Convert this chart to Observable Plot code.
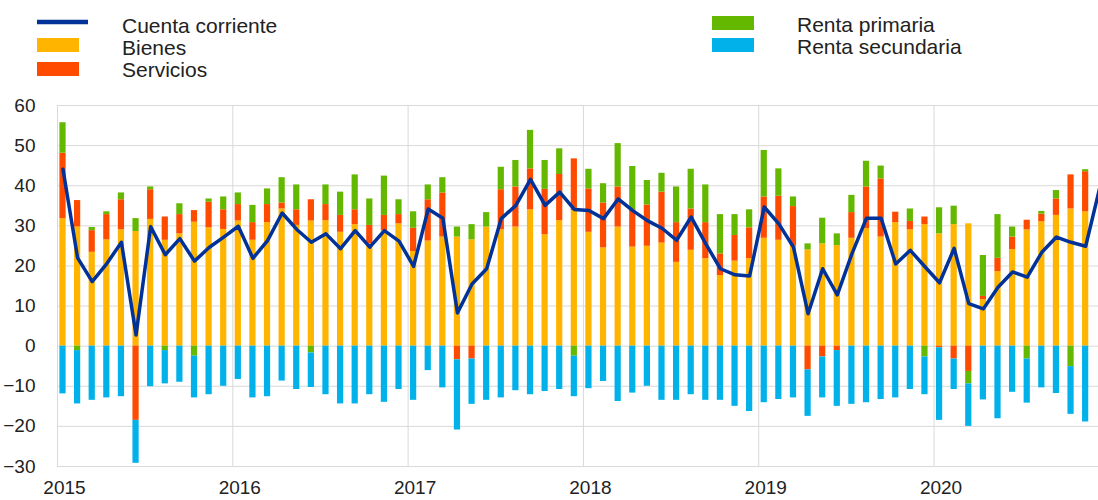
<!DOCTYPE html>
<html>
<head>
<meta charset="utf-8">
<script src="https://cdn.jsdelivr.net/npm/d3@7"></script>
<script src="https://cdn.jsdelivr.net/npm/@observablehq/plot@0.6"></script>
<style>
html, body { margin: 0; padding: 0; background: #fff; overflow: hidden; }
#chart { width: 1098px; height: 500px; font-family: "Liberation Sans", Arial, sans-serif; }
#chart svg { display: block; }
</style>
</head>
<body>
<div id="chart"></div>
<script>
// ---- Data (monthly, Jan 2015 onward) ----
const startYear = 2015;
const seriesNames = ["Bienes", "Servicios", "Renta primaria", "Renta secundaria"];
const lineName = "Cuenta corriente";
const seriesColors = ["#FFB400", "#FF4B00", "#65B800", "#00B1EA"];
const lineColor = "#003299";

const bienes = [
  31.8, 29.7, 23.4, 26.5, 29.0, 28.6, 31.6, 26.4, 28.0, 30.9, 29.5, 29.1,
  31.2, 26.4, 30.8, 34.2, 30.1, 31.2, 31.3, 28.4, 30.3, 25.5, 28.8, 30.5,
  23.6, 26.2, 27.2, 27.2, 26.5, 29.7, 29.0, 29.7, 34.0, 27.8, 31.3, 33.8,
  28.4, 24.5, 29.7, 24.7, 24.9, 25.7, 20.9, 23.9, 21.8, 17.6, 21.2, 21.8,
  26.9, 26.4, 24.9, 24.0, 25.5, 25.1, 26.9, 29.3, 27.2, 30.8, 29.0, 30.3,
  28.0, 30.3, 30.5, 11.6, 18.6, 24.1, 29.0, 31.0, 32.6, 34.2, 33.5
];
const servicios = [
  16.3, 6.6, 5.4, 6.3, 7.5, -18.5, 7.4, 5.8, 4.8, 2.9, 6.4, 4.9,
  4.1, 4.4, 4.5, 1.5, 3.9, 5.3, 4.0, 4.2, 3.7, 4.6, 3.8, 2.3,
  5.8, 10.3, 11.0, -3.4, -3.2, 0, 10.0, 10.0, 10.2, 11.3, 11.5, 12.9,
  10.8, 11.2, 10.0, 9.3, 10.3, 12.7, 9.9, 10.3, 9.0, 5.4, 6.4, 7.7,
  10.3, 11.0, 9.9, -5.9, -2.7, -1.1, 6.4, 10.4, 14.5, 2.6, 2.1, 1.9,
  -0.4, -3.2, -6.3, 0.8, 3.3, 3.1, 2.4, 1.9, 4.1, 8.5, 10.0
];
const rentaPrimaria = [
  7.6, -1.1, 0.8, 0.7, 1.7, 3.2, 0.7, -1.1, 2.7, -2.5, 0.8, 3.2,
  2.9, 4.3, 3.9, 6.3, 6.2, -1.7, 4.9, 5.8, 8.7, 6.6, 9.8, 3.7,
  4.1, 3.7, 3.8, 2.5, 3.8, 3.6, 5.6, 6.6, 9.6, 7.2, 6.4, -2.5,
  4.9, 4.8, 10.8, 10.8, 6.1, 4.7, 8.9, 9.9, 9.4, 9.8, 5.2, 4.5,
  11.6, 6.8, 2.4, 1.5, 6.4, 2.9, 4.3, 6.4, 3.2, 0, 3.1, -2.7,
  6.5, 4.6, -3.1, 10.2, 10.9, 2.5, -3.2, 0.7, 2.1, -5.1, 0.5
];
const rentaSecundaria = [
  -11.9, -13.3, -13.5, -12.9, -12.6, -10.7, -10.1, -8.3, -9.0, -10.4, -12.1, -10.0,
  -8.3, -12.9, -12.6, -8.7, -10.8, -8.6, -12.1, -14.4, -14.4, -12.1, -14.0, -10.8,
  -13.5, -6.1, -10.4, -17.5, -11.3, -13.5, -12.9, -11.1, -12.1, -11.3, -10.8, -10.1,
  -10.6, -8.8, -13.8, -11.7, -10.0, -13.5, -13.5, -12.1, -13.5, -13.5, -15.0, -16.3,
  -14.1, -13.3, -12.9, -11.6, -10.2, -13.9, -14.5, -14.1, -13.3, -12.9, -10.8, -9.4,
  -18.1, -7.6, -10.6, -13.4, -18.1, -11.5, -11.0, -10.4, -11.8, -11.9, -18.9
];
const cuentaCorriente = [
  44.1, 22.0, 16.1, 20.6, 25.9, 2.8, 29.8, 22.8, 26.8, 21.2, 24.6, 27.2,
  29.9, 21.9, 26.3, 33.2, 29.1, 25.9, 28.0, 24.3, 28.8, 24.7, 28.8, 26.2,
  19.9, 34.2, 31.9, 8.3, 15.5, 19.3, 31.8, 35.1, 41.6, 35.1, 38.4, 34.1,
  33.8, 31.8, 36.7, 33.8, 31.3, 29.4, 26.4, 32.2, 25.5, 19.3, 17.8, 17.5,
  34.7, 30.5, 24.7, 8.1, 19.3, 12.8, 23.0, 31.9, 31.9, 20.5, 23.9, 19.8,
  15.8, 24.4, 10.6, 9.3, 14.7, 18.5, 17.2, 23.4, 27.2, 25.9, 24.9, 40.0
];
const xTicks = [2015, 2016, 2017, 2018, 2019, 2020];
const yTicks = [-30, -20, -10, 0, 10, 20, 30, 40, 50, 60];

// ---- Build tables ----
const seriesArrays = [bienes, servicios, rentaPrimaria, rentaSecundaria];
const rows = [];
seriesArrays.forEach((arr, s) => {
  arr.forEach((v, i) => {
    if (v === 0) return;
    rows.push({x1: startYear + i / 12, x2: startYear + (i + 1) / 12, value: v, series: seriesNames[s]});
  });
});
const lineRows = cuentaCorriente.map((v, i) => ({x: startYear + (i + 0.376) / 12, value: v}));

// ---- Legend ----
const FONT = '"Liberation Sans", Arial, sans-serif';
const legend = d3.create("svg").attr("width", 1098).attr("height", 90)
  .style("font-family", FONT).style("font-size", "21px");
legend.append("line").attr("x1", 37).attr("x2", 88).attr("y1", 22).attr("y2", 22)
  .attr("stroke", lineColor).attr("stroke-width", 4.5);
legend.append("text").attr("x", 122).attr("y", 32.5).attr("fill", "#222").text(lineName);
const legendItems = [
  {name: seriesNames[0], color: seriesColors[0], x: 37, y: 38, tx: 122, ty: 54.5},
  {name: seriesNames[1], color: seriesColors[1], x: 37, y: 62, tx: 122, ty: 76.5},
  {name: seriesNames[2], color: seriesColors[2], x: 712, y: 16, tx: 797, ty: 32},
  {name: seriesNames[3], color: seriesColors[3], x: 712, y: 38, tx: 797, ty: 53.5}
];
for (const it of legendItems) {
  legend.append("rect").attr("x", it.x).attr("y", it.y).attr("width", 42).attr("height", 14).attr("fill", it.color);
  legend.append("text").attr("x", it.tx).attr("y", it.ty).attr("fill", "#222").text(it.name);
}
document.getElementById("chart").append(legend.node());

// ---- Chart ----
const chart = Plot.plot({
  width: 1098,
  height: 410,
  marginLeft: 57,
  marginRight: 0,
  marginTop: 15,
  marginBottom: 34,
  style: {fontFamily: FONT, background: "#fff"},
  x: {domain: [2015, 2020.938], label: null},
  y: {domain: [-30, 60], label: null},
  color: {domain: seriesNames, range: seriesColors},
  marks: [
    Plot.gridY({ticks: yTicks, stroke: "#d9d9d9", strokeOpacity: 1}),
    Plot.gridX({ticks: xTicks, stroke: "#d9d9d9", strokeOpacity: 1}),
    Plot.rectY(rows, Plot.stackY({x1: "x1", x2: "x2", y: "value", fill: "series", insetLeft: 2.4, insetRight: 6})),
    Plot.line(lineRows, {x: "x", y: "value", stroke: lineColor, strokeWidth: 3.5, strokeLinejoin: "round", clip: true}),
    Plot.axisY({ticks: yTicks, tickSize: 0, tickPadding: 22, fontSize: 19, color: "#222", label: null}),
    Plot.axisX({ticks: xTicks, tickSize: 0, tickPadding: 14, fontSize: 19, dx: 7, color: "#222", label: null, tickFormat: d => String(d)})
  ]
});
document.getElementById("chart").append(chart);
</script>
</body>
</html>
